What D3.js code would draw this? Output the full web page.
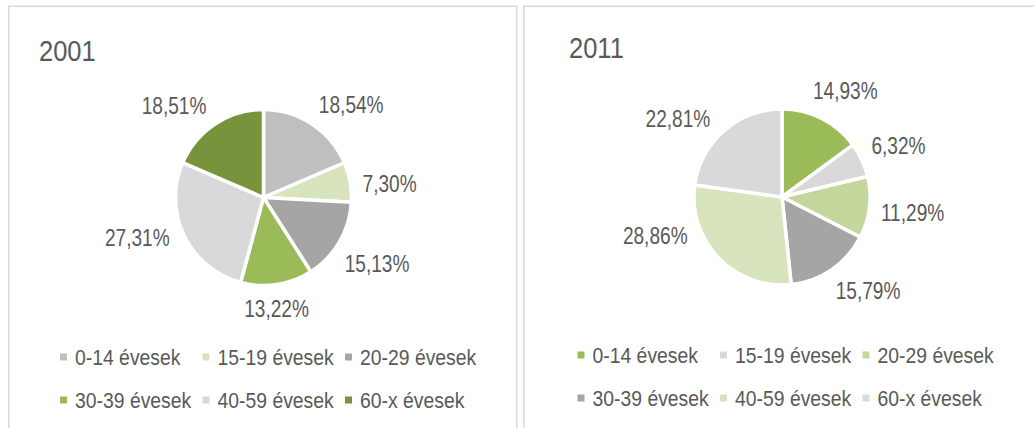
<!DOCTYPE html>
<html>
<head>
<meta charset="utf-8">
<script src="https://cdn.jsdelivr.net/npm/d3@7"></script>
<style>
  body { margin: 0; background: #fff; }
  text { font-family: "Liberation Sans", Arial, sans-serif; fill: #595959; }
</style>
</head>
<body>
<svg id="chart" width="1034" height="428"></svg>
<script>
// --- DATOS ---
const categories = ["0-14 évesek", "15-19 évesek", "20-29 évesek", "30-39 évesek", "40-59 évesek", "60-x évesek"];
const years = ["2001", "2011"];
const values2001 = [18.54, 7.30, 15.13, 13.22, 27.31, 18.51];
const values2011 = [14.93, 6.32, 11.29, 15.79, 28.86, 22.81];
const colors2001 = ["#bfbfbf", "#d7e4bd", "#a5a5a5", "#9bbb59", "#d9d9d9", "#77933c"];
const colors2011 = ["#9bbb59", "#d9d9d9", "#c3d69b", "#a5a5a5", "#d7e4bd", "#d9d9d9"];

// --- LAYOUT ---
// eltolás fokban a címkéknek (Excel "best fit" utánzása)
const nudge2001 = [10, 4, 0, 2, 8, -11];
const nudge2011 = [4, 1, 0, -8, 27, -12];

const panels = [
  { year: years[0], values: values2001, colors: colors2001, nudge: nudge2001,
    x: 8, w: 508, cx: 263.5, cy: 197.5, titleX: 39, titleY: 61, legendX: 60, legendY: [365, 408] },
  { year: years[1], values: values2011, colors: colors2011, nudge: nudge2011,
    x: 523, w: 530, cx: 782, cy: 197, titleX: 569, titleY: 58, legendX: 577.5, legendY: [363, 406] }
];

const radius = 88;
const labelGap = 11;
const fmt = v => d3.format(".2f")(v).replace(".", ",") + "%";

const svg = d3.select("#chart");

function addText(g, x, y, str, size, sx, anchor) {
  return g.append("text")
    .attr("transform", `translate(${x},${y}) scale(${sx},1)`)
    .attr("text-anchor", anchor || "start")
    .style("font-size", size + "px")
    .text(str);
}

const pie = d3.pie().sort(null).value(d => d);
const arc = d3.arc().innerRadius(0).outerRadius(radius);

panels.forEach(p => {
  const g = svg.append("g");

  // keret
  g.append("rect")
    .attr("x", p.x + 0.75).attr("y", 6.25)
    .attr("width", p.w).attr("height", 440)
    .attr("fill", "none")
    .attr("stroke", "#d9d9d9")
    .attr("stroke-width", 1.5);

  // cím
  addText(g, p.titleX, p.titleY, p.year, 30, 0.85);

  // szeletek
  const arcs = pie(p.values);
  const gPie = g.append("g").attr("transform", `translate(${p.cx},${p.cy})`);
  gPie.selectAll("path")
    .data(arcs)
    .join("path")
    .attr("d", arc)
    .attr("fill", (d, i) => p.colors[i])
    .attr("stroke", "#fff")
    .attr("stroke-width", 3.5)
    .attr("stroke-linejoin", "miter");

  // címkék
  const R = radius + labelGap;
  arcs.forEach((d, i) => {
    const a = (d.startAngle + d.endAngle) / 2 + p.nudge[i] * Math.PI / 180;
    const t = addText(g, 0, 0, fmt(d.data), 23, 0.83, "middle");
    const w = t.node().getComputedTextLength() * 0.83;
    const h = 18;
    const s = Math.sin(a), c = Math.cos(a);
    const dist = R + Math.abs(s) * w / 2 + Math.abs(c) * h / 2;
    const x = p.cx + dist * s;
    const y = p.cy - dist * c + 8.3;
    t.attr("transform", `translate(${x},${y}) scale(0.83,1)`);
  });

  // jelmagyarázat
  const colW = 142.5;
  categories.forEach((cat, i) => {
    const col = i % 3, row = Math.floor(i / 3);
    const lx = p.legendX + col * colW;
    const ly = p.legendY[row];
    g.append("rect")
      .attr("x", lx).attr("y", ly - 11.5)
      .attr("width", 7).attr("height", 7)
      .attr("fill", p.colors[i]);
    addText(g, lx + 15, ly, cat, 22, 0.88);
  });
});
</script>
</body>
</html>
